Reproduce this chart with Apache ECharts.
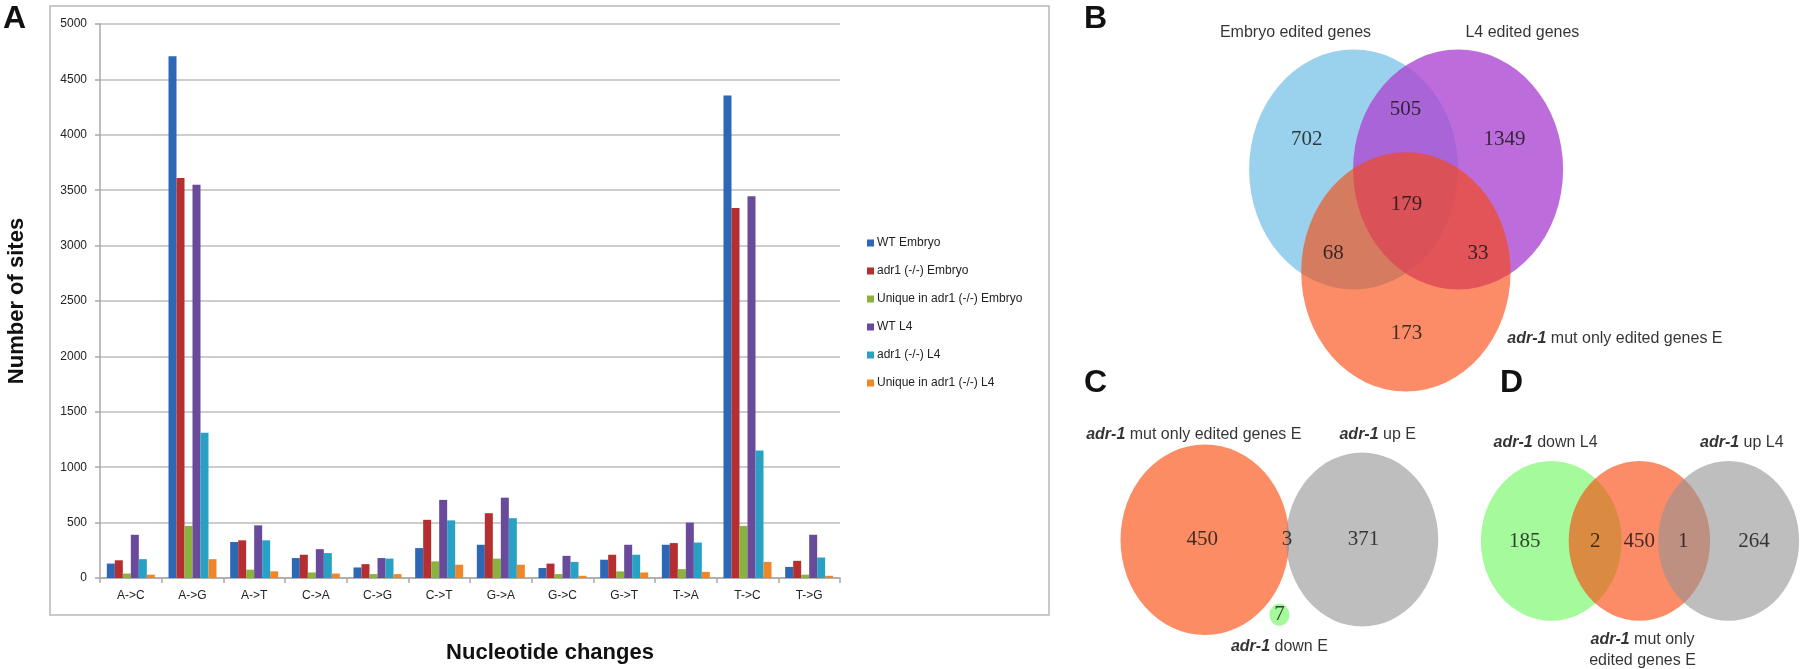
<!DOCTYPE html>
<html>
<head>
<meta charset="utf-8">
<script src="https://cdn.jsdelivr.net/npm/echarts@6/dist/echarts.min.js"></script>
<style>
  html, body { margin: 0; padding: 0; background: #fff; }
  #main { width: 1800px; height: 669px; }
</style>
</head>
<body>
<div id="main"></div>
<script>
// ---- panel A data ----
const categories = ['A->C', 'A->G', 'A->T', 'C->A', 'C->G', 'C->T', 'G->A', 'G->C', 'G->T', 'T->A', 'T->C', 'T->G'];
const seriesNames = ['WT Embryo', 'adr1 (-/-) Embryo', 'Unique in adr1 (-/-) Embryo', 'WT L4', 'adr1 (-/-) L4', 'Unique in adr1 (-/-) L4'];
const wtEmbryo     = [130, 4710, 325, 180, 95, 270, 300, 90, 165, 300, 4355, 100];
const adr1Embryo   = [160, 3610, 340, 210, 125, 525, 585, 130, 210, 315, 3340, 155];
const uniqueEmbryo = [40, 470, 75, 50, 35, 150, 175, 35, 60, 80, 470, 30];
const wtL4         = [390, 3550, 475, 260, 180, 705, 725, 200, 300, 500, 3445, 390];
const adr1L4       = [170, 1310, 340, 225, 175, 520, 540, 145, 210, 320, 1150, 185];
const uniqueL4     = [30, 170, 60, 40, 35, 120, 120, 20, 50, 55, 145, 20];
const yMax = 5000;
const yStep = 500;

// ---- venn counts ----
const vennBSets = ['Embryo edited genes', 'L4 edited genes', '{i|adr-1} mut only edited genes E'];
const vennBCounts = [702, 505, 1349, 179, 68, 33, 173];
const vennCSets = ['{i|adr-1} mut only edited genes E', '{i|adr-1} up E', '{i|adr-1} down E'];
const vennCCounts = [450, 3, 371, 7];
const vennDSets = ['{i|adr-1} down L4', '{i|adr-1} up L4', '{i|adr-1} mut only\nedited genes E'];
const vennDCounts = [185, 2, 450, 1, 264];

const barColors = ['#2d68b6', '#b52f30', '#8ab23e', '#6a4a9b', '#29a1c4', '#ef8628'];
const barData = [wtEmbryo, adr1Embryo, uniqueEmbryo, wtL4, adr1L4, uniqueL4];

// venn layout (units of the right-hand grid)
const ellipses = [
  // B
  { c: [293.6, 169.5, 209, 240], fill: 'rgba(145,205,235,0.92)' },
  { c: [398.1, 169.5, 210, 240], fill: 'rgba(172,72,210,0.8)' },
  { c: [345.9, 271.9, 209.4, 239.2], fill: 'rgba(250,70,10,0.62)' },
  // C
  { c: [144.9, 539.7, 168.8, 190.6], fill: 'rgba(252,140,100,1)' },
  { c: [302.1, 539.5, 152.2, 174], fill: 'rgba(147,147,147,0.6)' },
  { c: [219.4, 614.7, 20, 22], fill: 'rgba(165,250,155,1)' },
  // D
  { c: [491.3, 540.9, 140.8, 159.8], fill: 'rgba(165,250,155,1)' },
  { c: [579.4, 540.9, 141.4, 159.8], fill: 'rgba(250,70,10,0.62)' },
  { c: [668.6, 540.9, 141, 159.8], fill: 'rgba(147,147,147,0.6)' }
];

const countPos = [
  // B
  [246.8, 139.5], [345.6, 109.7], [444.4, 139.5], [346.6, 204.7], [273.3, 253], [418, 253], [346.6, 333.8],
  // C
  [142.3, 539.4], [227, 539.4], [303.5, 539.4], [219.4, 614.7],
  // D
  [464.8, 541], [535.2, 541], [579.2, 541], [623.2, 541], [694.1, 541]
];
const allCounts = vennBCounts.concat(vennCCounts, vennDCounts);

const setLabelPos = [
  [235.5, 32.2, 'center'], [462.4, 32.2, 'center'], [447.3, 339, 'left'],
  [133.8, 435, 'center'], [317.7, 435, 'center'], [219.4, 646.3, 'center'],
  [485.6, 443, 'center'], [681.8, 443, 'center'], [582.5, 650, 'center']
];
const allSetNames = vennBSets.concat(vennCSets, vennDSets);

const chart = echarts.init(document.getElementById('main'));

const barSeries = seriesNames.map((name, i) => ({
  name: name,
  type: 'bar',
  xAxisIndex: 0,
  yAxisIndex: 0,
  barWidth: 8,
  barGap: '0%',
  itemStyle: { color: barColors[i] },
  data: barData[i]
}));

const letter = { fontSize: 32, fontWeight: 'bold', color: '#111', fontFamily: 'Liberation Sans' };

chart.setOption({
  animation: false,
  backgroundColor: '#fff',
  textStyle: { fontFamily: 'Liberation Sans' },
  title: [
    { text: 'A', left: 3, top: 3, padding: 0, textStyle: letter },
    { text: 'B', left: 1084, top: 3, padding: 0, textStyle: letter },
    { text: 'C', left: 1084, top: 367, padding: 0, textStyle: letter },
    { text: 'D', left: 1500, top: 367, padding: 0, textStyle: letter }
  ],
  graphic: [{
    type: 'rect',
    shape: { x: 50, y: 6, width: 999, height: 609 },
    style: { fill: 'none', stroke: '#b8b8b8', lineWidth: 1.5 },
    z: -1
  }],
  legend: {
    data: seriesNames,
    orient: 'vertical',
    left: 867,
    top: 236,
    padding: 0,
    itemWidth: 7,
    itemHeight: 7,
    itemGap: 14,
    icon: 'rect',
    textStyle: { fontSize: 12, color: '#222', lineHeight: 14, padding: [0, 0, 0, -2] }
  },
  grid: [
    { left: 100, top: 24, width: 740, height: 557 },
    { left: 1060, top: 0, width: 740, height: 669 }
  ],
  xAxis: [{
    type: 'category',
    gridIndex: 0,
    data: categories,
    name: 'Nucleotide changes',
    nameLocation: 'middle',
    nameGap: 64,
    nameTextStyle: { fontSize: 22, fontWeight: 'bold', color: '#111', padding: [0, 0, 0, 160] },
    axisLine: { lineStyle: { color: '#a8a8a8', width: 1.5 } },
    axisTick: { show: true, length: 5, lineStyle: { color: '#a8a8a8', width: 1.5 } },
    axisLabel: { fontSize: 12, color: '#222', margin: 12, interval: 0 }
  }, {
    type: 'value', gridIndex: 1, min: 0, max: 740, show: false
  }],
  yAxis: [{
    type: 'value',
    gridIndex: 0,
    min: 0,
    max: yMax,
    interval: yStep,
    name: 'Number of sites',
    nameLocation: 'middle',
    nameGap: 72,
    nameTextStyle: { fontSize: 22, fontWeight: 'bold', color: '#111' },
    axisLine: { show: true, lineStyle: { color: '#a8a8a8', width: 1.5 } },
    axisTick: { show: true, length: 5, lineStyle: { color: '#a8a8a8', width: 1.5 } },
    axisLabel: { fontSize: 12, color: '#222', margin: 13, formatter: v => String(v) },
    splitLine: { lineStyle: { color: '#bdbdbd', width: 1.5 } }
  }, {
    type: 'value', gridIndex: 1, min: 0, max: 669, inverse: true, show: false
  }],
  series: barSeries.concat([
    {
      type: 'custom',
      xAxisIndex: 1,
      yAxisIndex: 1,
      silent: true,
      data: ellipses.map(e => e.c),
      renderItem: function (params, api) {
        const c = api.coord([api.value(0), api.value(1)]);
        const s = api.size([api.value(2), api.value(3)]);
        const rx = Math.abs(s[0]) / 2, ry = Math.abs(s[1]) / 2;
        return {
          type: 'circle',
          x: c[0], y: c[1],
          scaleX: 1, scaleY: ry / rx,
          shape: { cx: 0, cy: 0, r: rx },
          style: { fill: ellipses[params.dataIndex].fill }
        };
      }
    },
    {
      type: 'scatter',
      xAxisIndex: 1,
      yAxisIndex: 1,
      silent: true,
      symbolSize: 0,
      z: 5,
      data: countPos.map((p, i) => ({ value: p, name: String(allCounts[i]) })),
      label: {
        show: true,
        position: 'inside',
        formatter: p => p.name,
        fontFamily: 'Liberation Serif',
        fontSize: 21,
        color: '#111'
      }
    },
    {
      type: 'scatter',
      xAxisIndex: 1,
      yAxisIndex: 1,
      silent: true,
      symbolSize: 0,
      z: 5,
      data: setLabelPos.map((p, i) => ({
        value: [p[0], p[1]],
        name: allSetNames[i],
        label: p[2] === 'left' ? { position: 'right', distance: 0 } : {}
      })),
      label: {
        show: true,
        position: 'inside',
        formatter: p => p.name,
        fontFamily: 'Liberation Sans',
        fontSize: 16,
        lineHeight: 21,
        color: '#000',
        rich: {
          i: { fontStyle: 'italic', fontWeight: 'bold', fontSize: 16, fontFamily: 'Liberation Sans', color: '#000' }
        }
      }
    }
  ])
});
</script>
</body>
</html>
